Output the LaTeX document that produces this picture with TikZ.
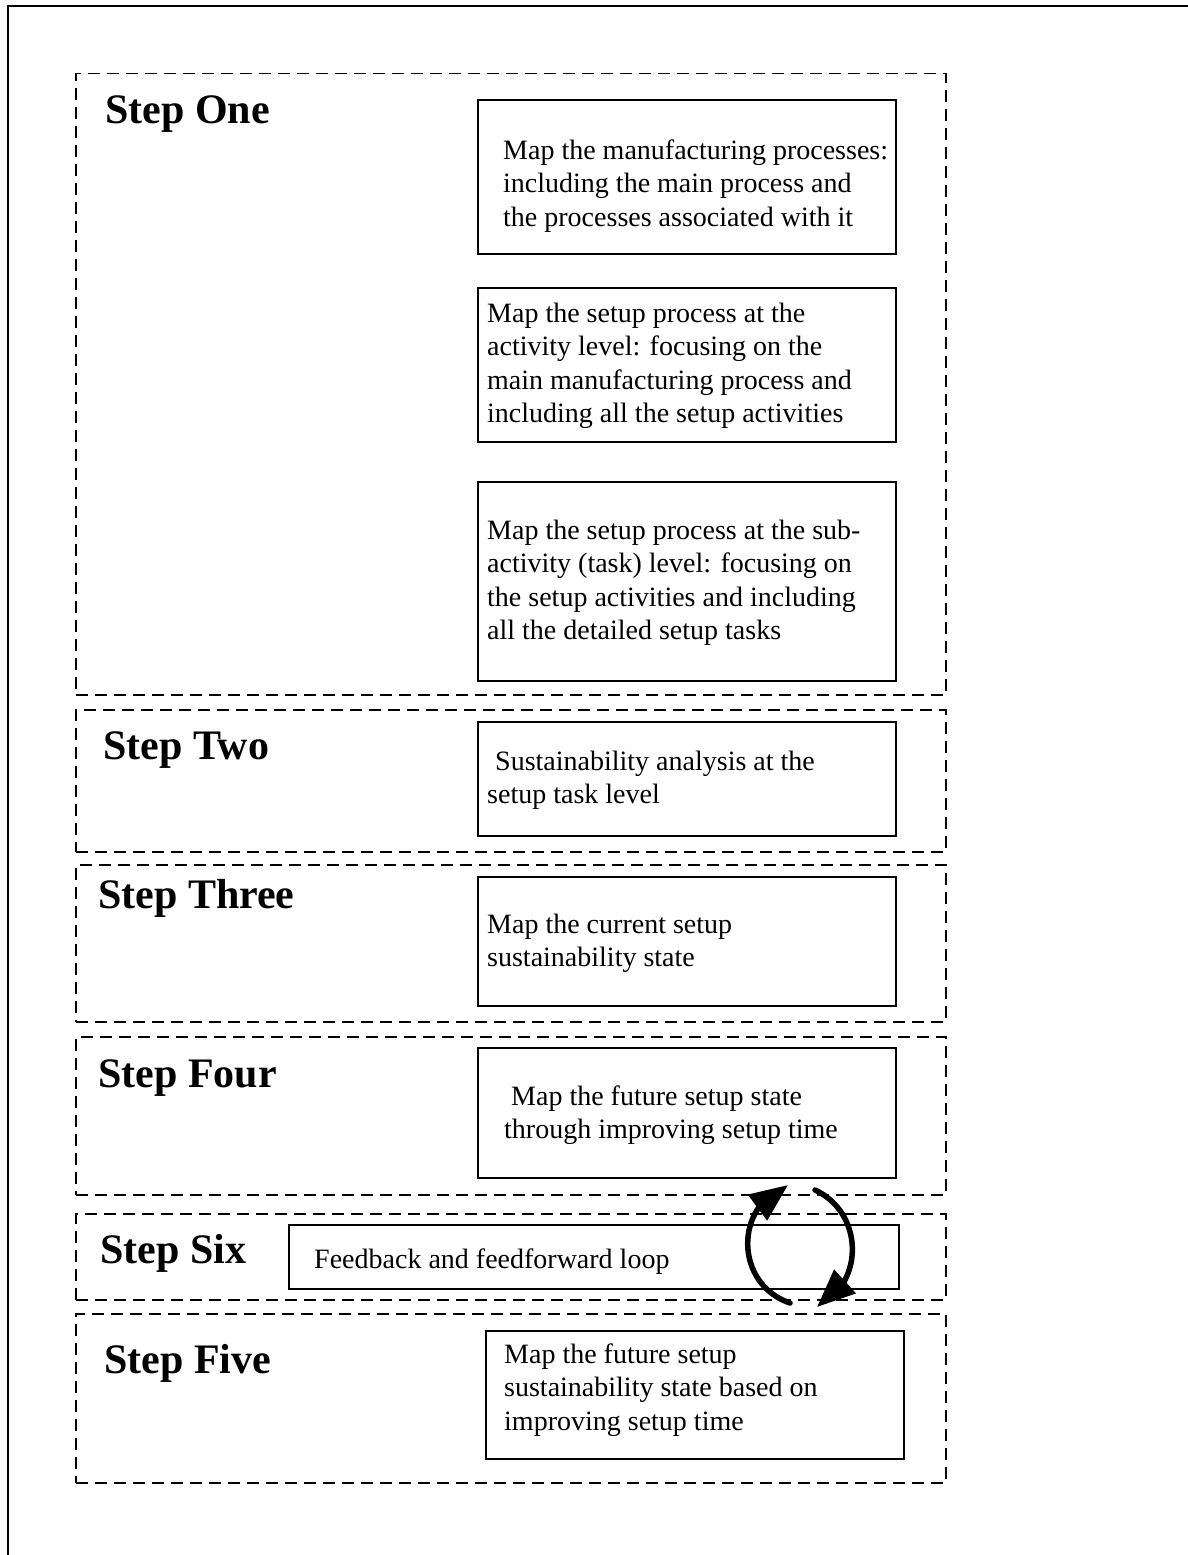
\documentclass[tikz,border=0pt]{standalone}
\usepackage{fontspec}
\setmainfont{Liberation Serif}
\usetikzlibrary{arrows.meta,bending}
% left-aligned block whose baseline is the baseline of its first line
\newcommand{\boxlines}[1]{\begin{tabular}[t]{@{}l@{}}#1\end{tabular}}
\begin{document}
\begin{tikzpicture}[x=1pt,y=-1pt,
  stepframe/.style={draw, dash pattern=on 12pt off 7pt, line width=1.5pt,
    rectangle, inner sep=0pt, anchor=north west},
  taskbox/.style={draw, line width=1.8pt, rectangle, inner sep=0pt, anchor=north west},
  tasktext/.style={anchor=base west, inner sep=0pt, font=\fontsize{28}{33.5}\selectfont},
  steplabel/.style={anchor=base west, inner sep=0pt, font=\fontsize{42}{50}\selectfont\bfseries},
  looparrow/.style={line width=5.5pt, line cap=round, -{Triangle[length=38pt,width=31pt]}}
]
\useasboundingbox (0,0) rectangle (1188,1555);

% page frame (top and left edges)
\draw[line width=2.5pt] (8,1565) -- (8,6) -- (1200,6);

% dashed step frames
\node[stepframe, minimum width=870pt, minimum height=621pt] (f1) at (75,73) {};
\node[stepframe, minimum width=870pt, minimum height=142pt] (f2) at (75,709) {};
\node[stepframe, minimum width=870pt, minimum height=157pt] (f3) at (75,864) {};
\node[stepframe, minimum width=870pt, minimum height=158pt] (f4) at (75,1036) {};
\node[stepframe, minimum width=870pt, minimum height=86pt]  (f6) at (75,1213) {};
\node[stepframe, minimum width=870pt, minimum height=169pt] (f5) at (75,1313) {};

% step labels
\node[steplabel] (l1) at (105,123)  {Step One};
\node[steplabel] (l2) at (103,759)  {Step Two};
\node[steplabel] (l3) at (98,908)   {Step Three};
\node[steplabel] (l4) at (98,1087)  {Step Four};
\node[steplabel] (l6) at (100,1263) {Step Six};
\node[steplabel] (l5) at (104,1373) {Step Five};

% task boxes
\node[taskbox, minimum width=418pt, minimum height=154pt] (b1) at (477,99) {};
\node[taskbox, minimum width=418pt, minimum height=154pt] (b2) at (477,287) {};
\node[taskbox, minimum width=418pt, minimum height=199pt] (b3) at (477,481) {};
\node[taskbox, minimum width=418pt, minimum height=114pt] (b4) at (477,721) {};
\node[taskbox, minimum width=418pt, minimum height=129pt] (b5) at (477,876) {};
\node[taskbox, minimum width=418pt, minimum height=130pt] (b6) at (477,1047) {};
\node[taskbox, minimum width=610pt, minimum height=64pt]  (b7) at (288,1224) {};
\node[taskbox, minimum width=418pt, minimum height=128pt] (b8) at (485,1330) {};

% task texts
\node[tasktext] (t1) at (503,159) {\boxlines{Map the manufacturing processes:\\
  including the main process and\\ the processes associated with it}};
\node[tasktext] (t2) at (487,322) {\boxlines{Map the setup process at the\\
  activity level: focusing on the\\ main manufacturing process and\\
  including all the setup activities}};
\node[tasktext] (t3) at (487,539) {\boxlines{Map the setup process at the sub-\\
  activity (task) level: focusing on\\ the setup activities and including\\
  all the detailed setup tasks}};
\node[tasktext] (t4) at (487,770) {\boxlines{\hspace{8pt}Sustainability analysis at the\\
  setup task level}};
\node[tasktext] (t5) at (487,933) {\boxlines{Map the current setup\\ sustainability state}};
\node[tasktext] (t6) at (504,1105) {\boxlines{\hspace{7pt}Map the future setup state\\
  through improving setup time}};
\node[tasktext] (t7) at (314,1268) {Feedback and feedforward loop};
\node[tasktext] (t8) at (504,1363) {\boxlines{Map the future setup\\
  sustainability state based on\\ improving setup time}};

% feedback / feedforward loop arrows
\coordinate (upTail) at (790,1303);
\coordinate (upTip)  at (788,1185);
\coordinate (dnTail) at (815,1190);
\coordinate (dnTip)  at (817,1307);
\draw[looparrow] (upTail) .. controls (734.5,1284.2) and (733.4,1205.3) .. (upTip);
\draw[looparrow] (dnTail) .. controls (863.7,1212.7) and (865.2,1283.3) .. (dnTip);
\end{tikzpicture}
\end{document}
